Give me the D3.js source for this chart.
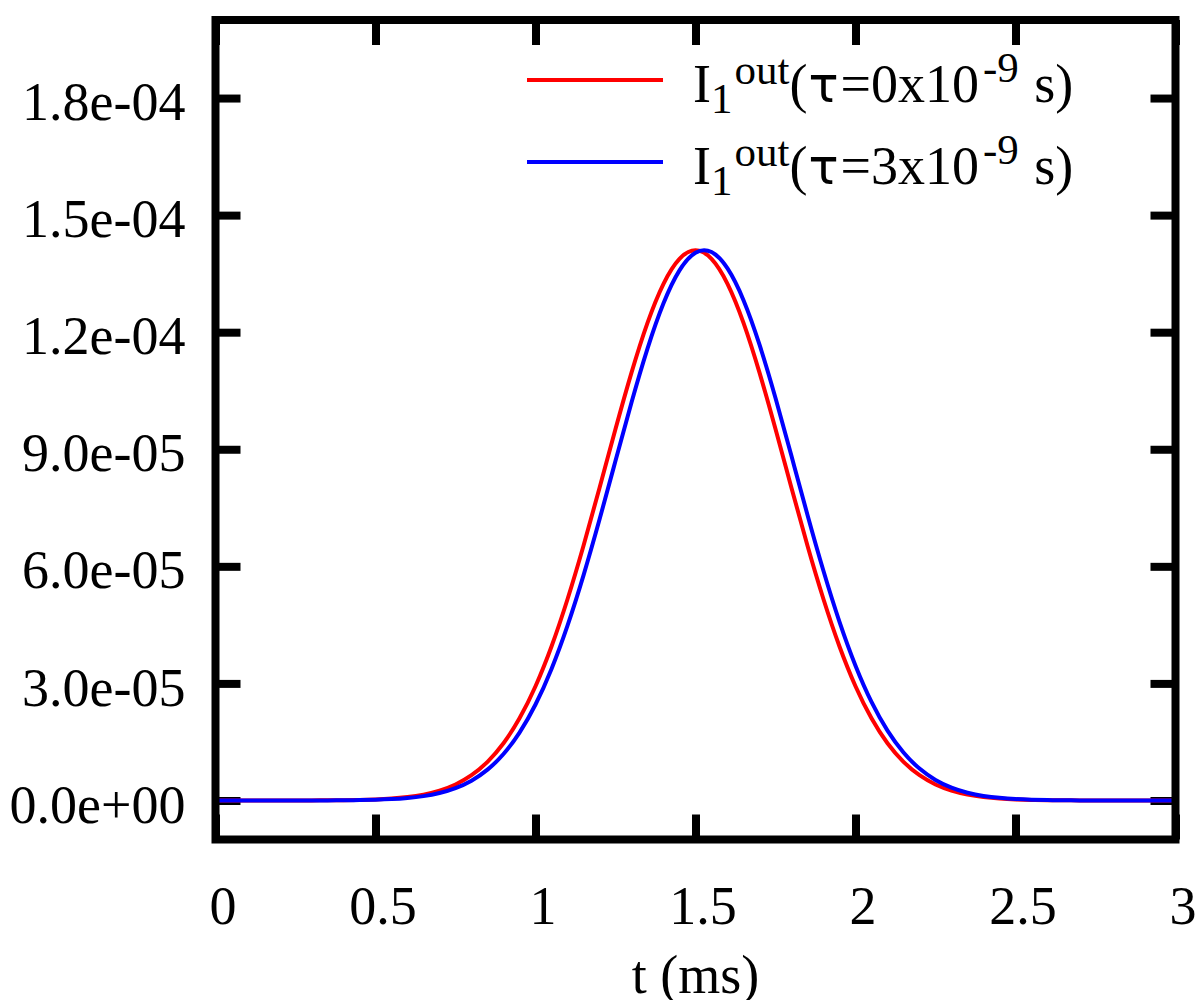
<!DOCTYPE html>
<html>
<head>
<meta charset="utf-8">
<script src="https://cdn.jsdelivr.net/npm/d3@7/dist/d3.min.js"></script>
<style>
  html, body { margin: 0; padding: 0; background: #fff; }
  svg { display: block; }
  text { font-family: "Liberation Serif", "DejaVu Serif", serif; fill: #000; }
</style>
</head>
<body>
<svg id="chart" width="1200" height="1000"></svg>
<script>
// ---- data (values in units of 1e-5, sampled every 0.05 ms) ----
const timeMs = d3.range(0, 61).map(i => +(i * 0.05).toFixed(2));
const redValues = [
  0, 0, 0, 0, 0, 0.001, 0.002, 0.004, 0.007, 0.014,
  0.026, 0.048, 0.087, 0.150, 0.252, 0.410, 0.647, 0.990, 1.466, 2.105,
  2.928, 3.946, 5.156, 6.527, 8.007, 9.518, 10.964, 12.240, 13.241, 13.880,
  14.100,
  13.880, 13.241, 12.240, 10.964, 9.518, 8.007, 6.527, 5.156, 3.946, 2.928,
  2.105, 1.466, 0.990, 0.647, 0.410, 0.252, 0.150, 0.087, 0.048, 0.026,
  0.014, 0.007, 0.004, 0.002, 0.001, 0, 0, 0, 0, 0
];
const blueValues = [
  0, 0, 0, 0, 0, 0, 0.001, 0.002, 0.005, 0.010,
  0.019, 0.035, 0.064, 0.112, 0.191, 0.317, 0.508, 0.790, 1.190, 1.739,
  2.460, 3.372, 4.481, 5.769, 7.198, 8.704, 10.198, 11.579, 12.740, 13.584,
  14.036,
  14.053, 13.635, 12.821, 11.681, 10.314, 8.825, 7.317, 5.879, 4.577, 3.454,
  2.525, 1.789, 1.229, 0.817, 0.527, 0.329, 0.199, 0.117, 0.067, 0.037,
  0.020, 0.010, 0.005, 0.002, 0.001, 0, 0, 0, 0, 0
];
const seriesNames = ["red", "blue"];
const seriesColors = ["#ff0000", "#0000ff"];
const legendTau = ["0", "3"];

const xTicks = [0, 0.5, 1, 1.5, 2, 2.5, 3];
const xTickLabels = ["0", "0.5", "1", "1.5", "2", "2.5", "3"];
const yTicks = [0, 3e-5, 6e-5, 9e-5, 1.2e-4, 1.5e-4, 1.8e-4];
const yTickLabels = ["0.0e+00", "3.0e-05", "6.0e-05", "9.0e-05", "1.2e-04", "1.5e-04", "1.8e-04"];
const xDomain = [0, 3];
const yDomain = [-1e-5, 2e-4];

// ---- layout ----
const L = 215.5, R = 1175.5, T = 20, B = 839.5;
const FS = 54, SFS = 43;

const svg = d3.select("#chart");
const x = d3.scaleLinear().domain(xDomain).range([L, R]);
const y = d3.scaleLinear().domain(yDomain).range([B, T]);

const tickLen = 25, tickW = 8;

function styleAxis(g, keepText) {
  g.select(".domain").remove();
  g.selectAll(".tick line").attr("stroke", "#000").attr("stroke-width", tickW);
  if (!keepText) g.selectAll(".tick text").remove();
  g.selectAll(".tick text").attr("font-family", "Liberation Serif").attr("font-size", FS).attr("fill", "#000");
}

// left
svg.append("g").attr("transform", `translate(${L},0)`)
  .call(d3.axisLeft(y).tickValues(yTicks).tickSize(-tickLen).tickPadding(30)
    .tickFormat((d, i) => yTickLabels[i]))
  .call(g => styleAxis(g, true))
  .call(g => g.selectAll(".tick text").attr("dy", "0.4em"));
// right
svg.append("g").attr("transform", `translate(${R},0)`)
  .call(d3.axisRight(y).tickValues(yTicks).tickSize(-tickLen))
  .call(g => styleAxis(g, false));
// bottom
svg.append("g").attr("transform", `translate(0,${B})`)
  .call(d3.axisBottom(x).tickValues(xTicks).tickSize(-tickLen).tickPadding(46)
    .tickFormat((d, i) => xTickLabels[i]))
  .call(g => styleAxis(g, true))
  .call(g => g.selectAll(".tick text").attr("dx", 7));
// top
svg.append("g").attr("transform", `translate(0,${T})`)
  .call(d3.axisTop(x).tickValues(xTicks).tickSize(-tickLen))
  .call(g => styleAxis(g, false));

// clip
svg.append("clipPath").attr("id", "plotclip")
  .append("rect").attr("x", L).attr("y", T).attr("width", R - L).attr("height", B - T);

const line = d3.line()
  .x(d => x(d.t))
  .y(d => y(d.v * 1e-5))
  .curve(d3.curveNatural);

const series = [redValues, blueValues].map((vals, k) => ({
  name: seriesNames[k],
  color: seriesColors[k],
  pts: timeMs.map((t, i) => ({ t: t, v: vals[i] }))
}));

svg.append("g").attr("clip-path", "url(#plotclip)")
  .selectAll("path").data(series).join("path")
  .attr("d", d => line(d.pts))
  .attr("fill", "none")
  .attr("stroke", d => d.color)
  .attr("stroke-width", 4)
  .attr("stroke-linejoin", "round");

// frame
svg.append("rect").attr("x", L).attr("y", T).attr("width", R - L).attr("height", B - T)
  .attr("fill", "none").attr("stroke", "#000").attr("stroke-width", tickW);

// legend
const leg = svg.append("g");
series.forEach((s, k) => {
  const ly = 80 + k * 82;
  leg.append("line").attr("x1", 527).attr("x2", 663).attr("y1", ly).attr("y2", ly)
    .attr("stroke", s.color).attr("stroke-width", 4);
  const tx = leg.append("text").attr("x", 693).attr("y", ly + 22)
    .attr("font-size", FS).style("white-space", "pre");
  tx.append("tspan").text("I");
  tx.append("tspan").attr("font-size", SFS).attr("dy", 11).text("1");
  tx.append("tspan").attr("font-size", SFS).attr("dy", -29).attr("dx", 2).text("out");
  tx.append("tspan").attr("font-size", FS).attr("dy", 18).text("(");
  tx.append("tspan").attr("font-family", "DejaVu Sans").attr("font-size", 50).attr("dx", 1).text("\u03c4");
  tx.append("tspan").attr("dx", 2).text("=" + legendTau[k] + "x10");
  tx.append("tspan").attr("font-size", SFS).attr("dy", -20).attr("dx", 4).text("-9");
  tx.append("tspan").attr("font-size", FS).attr("dy", 20).attr("dx", 2).text(" s)");
});

// x-axis title
svg.append("text").attr("x", (L + R) / 2).attr("y", 993)
  .attr("text-anchor", "middle").attr("font-size", FS).text("t (ms)");
</script>
</body>
</html>
